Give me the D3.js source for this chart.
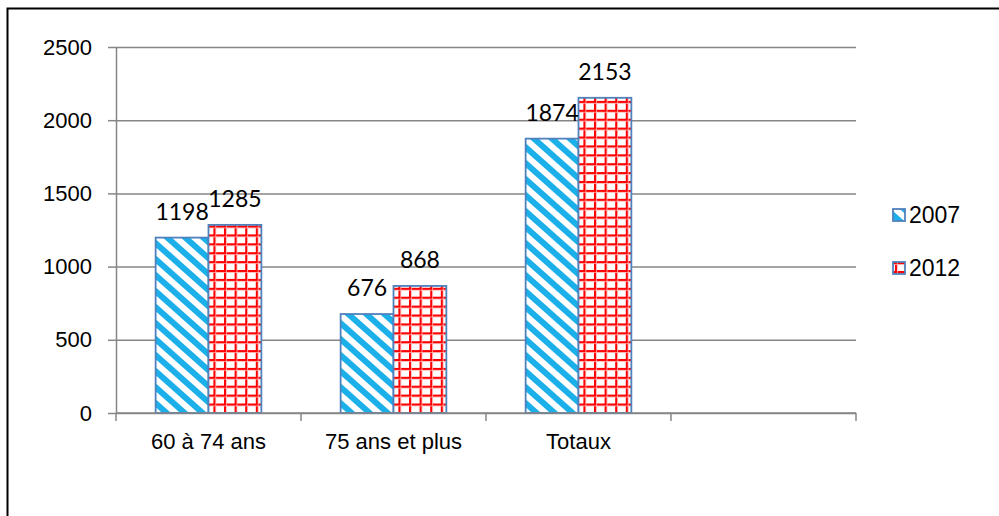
<!DOCTYPE html>
<html>
<head>
<meta charset="utf-8">
<script src="https://cdn.jsdelivr.net/npm/d3@7"></script>
<style>
body { margin: 0; background: #fff; }
svg { display: block; }
</style>
</head>
<body>
<script>
var categories = ["60 à 74 ans", "75 ans et plus", "Totaux", ""];
var series = ["2007", "2012"];
var values2007 = [1198, 676, 1874];
var values2012 = [1285, 868, 2153];
var yTicks = [0, 500, 1000, 1500, 2000, 2500];

var width = 999, height = 516;
var plotLeft = 116, plotRight = 856, plotTop = 47, plotBottom = 413;

var svg = d3.select("body").append("svg").attr("width", width).attr("height", height);

// outer frame
svg.append("rect").attr("x", 7.5).attr("y", 8.5).attr("width", 1100).attr("height", 700)
  .attr("fill", "none").attr("stroke", "#000").attr("stroke-width", 2);

var defs = svg.append("defs");
// 2007: downward diagonal stripes
var pw = 18, ph = 16;
var stripes = defs.append("pattern").attr("id", "stripes").attr("patternUnits", "userSpaceOnUse")
  .attr("width", pw).attr("height", ph);
stripes.append("rect").attr("width", pw).attr("height", ph).attr("fill", "#fff");
[-pw, 0, pw].forEach(function(o) {
  stripes.append("line")
    .attr("x1", o - pw * 0.5).attr("y1", -ph * 0.5)
    .attr("x2", o + pw * 1.5).attr("y2", ph * 1.5)
    .attr("stroke", "#1cb0ea").attr("stroke-width", 6);
});
// 2012: red grid
var gw = 10.6, gh = 8.9;
var grid = defs.append("pattern").attr("id", "grid").attr("patternUnits", "userSpaceOnUse")
  .attr("width", gw).attr("height", gh).attr("x", 2).attr("y", 3);
grid.append("rect").attr("width", gw).attr("height", gh).attr("fill", "#fff");
grid.append("rect").attr("x", 0).attr("y", 0).attr("width", 2).attr("height", gh).attr("fill", "#ff0000");
grid.append("rect").attr("x", 0).attr("y", 0).attr("width", gw).attr("height", 2).attr("fill", "#ff0000");
grid.append("rect").attr("x", 2).attr("y", 0).attr("width", 0.8).attr("height", gh).attr("fill", "#ffb0b0");
grid.append("rect").attr("x", 0).attr("y", 2).attr("width", gw).attr("height", 0.8).attr("fill", "#ffb0b0");

var fills = { "2007": "url(#stripes)", "2012": "url(#grid)" };

var x0 = d3.scaleBand().domain(categories).range([plotLeft, plotRight]).padding(0);
var x1 = d3.scaleBand().domain(series).range([0, x0.bandwidth()]).paddingInner(0).paddingOuter(0.75);
var y = d3.scaleLinear().domain([0, 2500]).range([plotBottom, plotTop]);

// gridlines
svg.append("g").attr("transform", "translate(" + plotLeft + ",0)")
  .call(d3.axisLeft(y).tickValues(yTicks).tickSize(-(plotRight - plotLeft)).tickFormat(""))
  .call(function(g) {
    g.select(".domain").remove();
    g.selectAll("line").attr("stroke", "#868686").attr("stroke-width", 1.5);
  });

// y axis
svg.append("g").attr("transform", "translate(" + plotLeft + ",0)")
  .call(d3.axisLeft(y).tickValues(yTicks).tickSize(8).tickPadding(16).tickSizeOuter(0).tickFormat(d3.format("d")))
  .call(function(g) {
    g.select(".domain").attr("stroke", "#868686").attr("stroke-width", 1.5);
    g.selectAll("line").attr("stroke", "#868686").attr("stroke-width", 1.5);
    g.selectAll("text").attr("font-family", "Liberation Sans, Arial, sans-serif")
      .attr("font-size", 22).attr("fill", "#000");
  });

// bars
var rows = categories.slice(0, 3).map(function(c, i) {
  return { cat: c, vals: [{ s: "2007", v: values2007[i] }, { s: "2012", v: values2012[i] }] };
});
var groups = svg.selectAll(".cat").data(rows).enter().append("g")
  .attr("transform", function(d) { return "translate(" + x0(d.cat) + ",0)"; });
groups.selectAll("rect").data(function(d) { return d.vals; }).enter().append("rect")
  .attr("x", function(d) { return x1(d.s); })
  .attr("y", function(d) { return y(d.v); })
  .attr("width", x1.bandwidth())
  .attr("height", function(d) { return y(0) - y(d.v); })
  .attr("fill", function(d) { return fills[d.s]; })
  .attr("stroke", "#4f81bd").attr("stroke-width", 1.8);
groups.selectAll("text").data(function(d) { return d.vals; }).enter().append("text")
  .attr("x", function(d) { return x1(d.s) + x1.bandwidth() / 2; })
  .attr("y", function(d) { return y(d.v) - 18; })
  .attr("text-anchor", "middle")
  .attr("font-family", "Lato, Noto Sans, sans-serif").attr("font-size", 23).attr("fill", "#000")
  .text(function(d) { return d.v; });

// x axis
svg.append("line").attr("x1", plotLeft).attr("x2", plotRight).attr("y1", plotBottom).attr("y2", plotBottom)
  .attr("stroke", "#868686").attr("stroke-width", 1.5);
var bounds = categories.map(function(c) { return x0(c); }).concat([plotRight]);
svg.selectAll(".xtick").data(bounds).enter().append("line")
  .attr("x1", function(d) { return d; }).attr("x2", function(d) { return d; })
  .attr("y1", plotBottom).attr("y2", plotBottom + 8)
  .attr("stroke", "#868686").attr("stroke-width", 1.5);
svg.append("g").attr("transform", "translate(0," + plotBottom + ")")
  .call(d3.axisBottom(x0).tickSize(0).tickPadding(20))
  .call(function(g) {
    g.select(".domain").remove();
    g.selectAll("text").attr("font-family", "Liberation Sans, Arial, sans-serif")
      .attr("font-size", 22).attr("fill", "#000");
  });

// legend
var legend = svg.selectAll(".leg").data(series).enter().append("g")
  .attr("transform", function(d, i) { return "translate(893," + (215 + i * 53) + ")"; });
legend.append("rect").attr("x", 0).attr("y", -6).attr("width", 12).attr("height", 12)
  .attr("fill", function(d) { return fills[d]; })
  .attr("stroke", "#4f81bd").attr("stroke-width", 1.8);
legend.append("text").attr("x", 16).attr("y", 0).attr("dy", "0.35em")
  .attr("font-family", "Liberation Sans, Arial, sans-serif").attr("font-size", 23).attr("fill", "#000")
  .text(function(d) { return d; });
</script>
</body>
</html>
